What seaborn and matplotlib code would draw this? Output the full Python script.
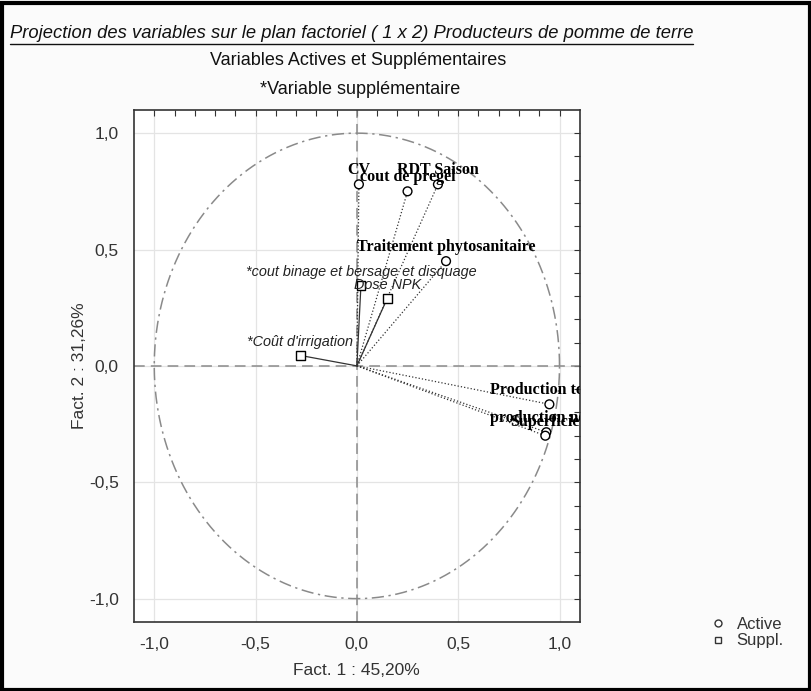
import numpy as np
import pandas as pd
import matplotlib
matplotlib.use("Agg")
import matplotlib.pyplot as plt
import seaborn as sns
from matplotlib.lines import Line2D
from matplotlib.patches import Rectangle

# variables actives (cercles)
active_names = ["CV", "cout de pregel", "RDT Saison", "Traitement phytosanitaire",
                "Production totale", "production nette", "Superficie"]
active_f1 = [0.01, 0.25, 0.40, 0.44, 0.95, 0.935, 0.93]
active_f2 = [0.78, 0.75, 0.78, 0.45, -0.165, -0.285, -0.30]

# variables supplementaires (carres)
suppl_names = ["*cout binage et bersage et disquage", "Dose NPK", "*Coût d'irrigation"]
suppl_f1 = [0.02, 0.15, -0.28]
suppl_f2 = [0.345, 0.29, 0.045]

tick_vals = [-1.0, -0.5, 0.0, 0.5, 1.0]
tick_labels = ["-1,0", "-0,5", "0,0", "0,5", "1,0"]

df = pd.DataFrame({
    "name": active_names + suppl_names,
    "f1": active_f1 + suppl_f1,
    "f2": active_f2 + suppl_f2,
    "type": ["Active"] * len(active_names) + ["Suppl."] * len(suppl_names),
})

sns.set_theme(style="white")
plt.rcParams["font.family"] = ["Liberation Sans", "DejaVu Sans"]

fig = plt.figure(figsize=(8.12, 6.91), dpi=100, facecolor="#fbfbfb")
ax = fig.add_axes([0.165, 0.100, 0.549, 0.741])
ax.set_facecolor("white")

# cercle des correlations
t = np.linspace(0, 2 * np.pi, 400)
ax.plot(np.cos(t), np.sin(t), color="#8a8a8a", lw=1.1, ls=(0, (8, 3, 1.5, 3)), zorder=1)
ax.axhline(0, color="#8a8a8a", lw=1.1, ls=(0, (7, 4)), zorder=1)
ax.axvline(0, color="#8a8a8a", lw=1.1, ls=(0, (7, 4)), zorder=1)

# vecteurs depuis l'origine
for _, r in df.iterrows():
    ls = ":" if r["type"] == "Active" else "-"
    ax.plot([0, r["f1"]], [0, r["f2"]], color="#333333", lw=0.9, ls=ls, zorder=2)

sns.scatterplot(data=df, x="f1", y="f2", style="type",
                markers={"Active": "o", "Suppl.": "s"},
                color="white", edgecolor="black", linewidth=1.0,
                s=40, legend=False, ax=ax, zorder=4)

for _, r in df.iterrows():
    if r["type"] == "Active":
        ax.annotate(r["name"], (r["f1"], r["f2"]), xytext=(0, 10),
                    textcoords="offset points", ha="center", va="center",
                    fontsize=11.5, fontweight="bold", family="Liberation Serif",
                    color="black", zorder=5, annotation_clip=False, clip_on=True)
    else:
        ax.annotate(r["name"], (r["f1"], r["f2"]), xytext=(0, 10),
                    textcoords="offset points", ha="center", va="center",
                    fontsize=10.4, style="italic", color="#222222",
                    zorder=5, annotation_clip=False, clip_on=True)

ax.set_xlim(-1.1, 1.1)
ax.set_ylim(-1.1, 1.1)
ax.set_xticks(tick_vals)
ax.set_xticklabels(tick_labels)
ax.set_yticks(tick_vals)
ax.set_yticklabels(tick_labels)
ax.set_xticks(np.arange(-1.0, 1.05, 0.1), minor=True)
ax.set_yticks(np.arange(-1.0, 1.05, 0.1), minor=True)
ax.tick_params(which="both", direction="in", top=True, right=True,
               length=4, width=0.8, color="#333333")
ax.tick_params(which="major", labelsize=12.5, labelcolor="#333333", pad=11)
ax.grid(True, which="major", color="#e4e4e4", lw=0.9)
for sp in ax.spines.values():
    sp.set_color("#333333")
    sp.set_linewidth(1.2)

ax.set_xlabel("Fact. 1 : 45,20%", fontsize=12.5, color="#333333", labelpad=8)
ax.set_ylabel("Fact. 2 : 31,26%", fontsize=12.5, color="#333333", labelpad=1)

# titres
title = fig.text(0.012, 0.951, "Projection des variables sur le plan factoriel ( 1 x 2) Producteurs de pomme de terre",
                 fontsize=13.2, style="italic", ha="left", va="center", color="#111111")
fig.text(0.441, 0.913, "Variables Actives et Supplémentaires", fontsize=13,
         ha="center", va="center", color="#111111")
fig.text(0.443, 0.871, "*Variable supplémentaire", fontsize=13,
         ha="center", va="center", color="#111111")

fig.canvas.draw()
bb = title.get_window_extent().transformed(fig.transFigure.inverted())
fig.add_artist(Line2D([bb.x0, bb.x1], [bb.y0 - 0.003, bb.y0 - 0.003],
                      color="#111111", lw=1.0, transform=fig.transFigure))

# legende
handles = [Line2D([], [], marker="o", ls="none", mfc="white", mec="#333333", ms=5, mew=1),
           Line2D([], [], marker="s", ls="none", mfc="white", mec="#333333", ms=5, mew=1)]
fig.legend(handles, ["Active", "Suppl."], loc="lower left",
           bbox_to_anchor=(0.856, 0.04), frameon=False, fontsize=12,
           handletextpad=0.6, labelspacing=0.1, handlelength=1.0,
           labelcolor="#333333")

# cadre exterieur
fig.add_artist(Rectangle((0.002, 0.002), 0.996, 0.994, transform=fig.transFigure,
                         fill=False, edgecolor="black", lw=3))

fig.savefig("out.png", dpi=100, facecolor=fig.get_facecolor())
